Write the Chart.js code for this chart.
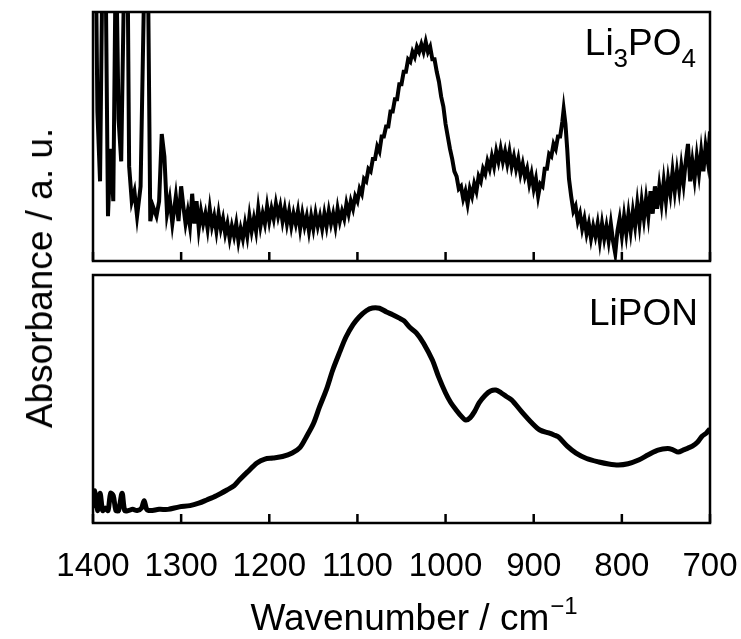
<!DOCTYPE html>
<html>
<head>
<meta charset="utf-8">
<script src="https://cdn.jsdelivr.net/npm/chart.js@4.4.1/dist/chart.umd.min.js"></script>
<style>
  body { margin: 0; background: #fff; overflow: hidden; }
  #wrap { position: relative; width: 741px; height: 639px; }
  #top { position: absolute; left: 0; top: 0; }
  #bottom { position: absolute; left: 0; top: 268px; }
  #ytitle {
    position: absolute; left: 40px; top: 278px;
    transform: translate(-50%, -50%) rotate(-90deg);
    font: 37px "Liberation Sans", Arial, sans-serif; color: #000; white-space: nowrap;
  }
</style>
</head>
<body>
<div id="wrap">
  <canvas id="top" width="741" height="268"></canvas>
  <canvas id="bottom" width="741" height="371"></canvas>
  <div id="ytitle">Absorbance / a. u.</div>
</div>
<script>
// x ticks (cm-1)
const x_ticks = [1400, 1300, 1200, 1100, 1000, 900, 800, 700];

// Li3PO4 spectrum (absorbance in % of panel height)
const li3po4_wn = [
  1400, 1397, 1395, 1392, 1389, 1386, 1383, 1380, 1377, 1374, 1371, 1368, 1364, 1361, 1359, 1356, 1353,
  1350, 1346, 1341, 1338, 1335, 1332, 1328, 1325, 1322, 1319, 1316, 1313, 1310, 1306, 1303, 1300,
  1297.5, 1295, 1292.5, 1290, 1287.5, 1285, 1282.5, 1280, 1277.5, 1275, 1272.5, 1270, 1267.5, 1265, 1262.5, 1260,
  1257.5, 1255, 1252.5, 1250, 1247.5, 1245, 1242.5, 1240, 1237.5, 1235, 1232.5, 1230, 1227.5, 1225, 1222.5, 1220,
  1217.5, 1215, 1212.5, 1210, 1207.5, 1205, 1202.5, 1200, 1197.5, 1195, 1192.5, 1190, 1187.5, 1185, 1182.5, 1180,
  1177.5, 1175, 1172.5, 1170, 1167.5, 1165, 1162.5, 1160, 1157.5, 1155, 1152.5, 1150, 1147.5, 1145, 1142.5, 1140,
  1137.5, 1135, 1132.5, 1130, 1127.5, 1125, 1122.5, 1120, 1117.5, 1115, 1112.5, 1110, 1107.5, 1105, 1102.5, 1100,
  1097.5, 1095, 1092.5, 1090, 1087.5, 1085, 1082.5, 1080, 1077.5, 1075, 1072.5, 1070, 1067.5, 1065, 1062.5, 1060,
  1057.5, 1055, 1052.5, 1050, 1047.5, 1045, 1042.5, 1040, 1037.5, 1035, 1032.5, 1030, 1027.5, 1025, 1022.5, 1020,
  1017.5, 1015, 1012.5, 1010, 1007.5, 1005, 1002.5, 1000, 997.5, 995, 992.5, 990, 987.5, 985, 982.5, 980,
  977.5, 975, 972.5, 970, 967.5, 965, 962.5, 960, 957.5, 955, 952.5, 950, 947.5, 945, 942.5, 940,
  937.5, 935, 932.5, 930, 927.5, 925, 922.5, 920, 917.5, 915, 912.5, 910, 907.5, 905, 902.5, 900,
  897.5, 895, 892.5, 890, 887.5, 885, 882.5, 880, 877.5, 875, 872.5, 870, 867.5, 866, 864, 862,
  860, 857.5, 855, 852.5, 850, 847.5, 845, 842.5, 840, 837.5, 835, 832.5, 830, 827.5, 825, 822.5,
  820, 817.5, 815, 812.5, 810, 807.5, 805, 802.5, 800, 797.5, 795, 792.5, 790, 787.5, 785, 782.5,
  780, 777.5, 775, 772.5, 770, 767.5, 765, 762.5, 760, 757.5, 755, 752.5, 750, 747.5, 745, 742.5,
  740, 737.5, 735, 732.5, 730, 727.5, 725, 722.5, 720, 717.5, 715, 712.5, 710, 707.5, 705, 702.5, 700
];
const li3po4_abs = [
  130, 130, 60, 32, 130, 130, 18, 45, 24, 130, 57, 40, 130, 130, 38, 24, 28,
  18, 30, 130, 130, 16, 22, 18, 24, 51, 42, 19, 25, 15, 26, 16, 30,
  22, 15, 20, 14, 27, 15, 24, 13, 20, 15, 19, 13, 21, 14, 18, 12,
  19, 13, 17, 11, 15, 9, 14, 10, 15, 8, 13, 9, 15, 10, 18, 12,
  17, 12, 21, 14, 19, 15, 22, 16, 21, 17, 23, 18, 22, 16, 21, 15,
  20, 14, 19, 15, 20, 13, 19, 14, 18, 12, 18, 13, 19, 14, 18, 13,
  19, 14, 20, 15, 19, 14, 21, 16, 20, 17, 23, 19, 24, 21, 26, 24,
  29, 27, 33, 32, 37, 36, 41, 41, 46, 44, 50, 50, 54, 54, 60, 60,
  65, 65, 71, 71, 76, 76, 81, 80, 84, 82, 86, 84, 87, 84, 88, 84,
  86, 81, 81, 76, 72, 66, 62, 55, 50, 45, 41, 36, 34, 29, 30, 25,
  28, 23, 29, 26, 31, 28, 34, 32, 37, 35, 40, 37, 42, 38, 44, 40,
  45, 40, 44, 39, 44, 38, 42, 37, 41, 35, 39, 34, 37, 31, 35, 29,
  33, 26, 31, 30, 37, 37, 43, 42, 47, 45, 50, 50, 56, 61, 55, 45,
  33, 26, 20, 22, 16, 19, 13, 17, 11, 15, 9, 14, 10, 15, 8, 15,
  9, 14, 8, 15, 8, 3, 12, 17, 10, 18, 11, 19, 12, 20, 14, 23,
  15, 24, 17, 25, 18, 28, 19, 30, 21, 30, 23, 32, 24, 33, 27, 36,
  28, 36, 29, 38, 31, 40, 47, 32, 40, 33, 42, 35, 44, 36, 46, 40, 52
];

// LiPON spectrum
const lipon_wn = [
  1400, 1398, 1395, 1392, 1389, 1386, 1383, 1380, 1377, 1374, 1371, 1367, 1364, 1360, 1355, 1350,
  1345, 1342, 1339, 1335, 1325, 1315, 1302, 1290, 1280, 1271, 1260, 1248, 1240, 1234, 1225, 1214,
  1205, 1196, 1185, 1174, 1165, 1158, 1150, 1143, 1135, 1128, 1120, 1113, 1105, 1098, 1090, 1083,
  1075, 1067, 1060, 1053, 1047, 1041, 1033, 1025, 1015, 1008, 1000, 994, 988, 982, 977, 972,
  967, 962, 955, 949, 943, 937, 931, 925, 914, 902, 893, 883, 877, 872, 862, 852,
  840, 826, 815, 804, 793, 781, 770, 759, 748, 742, 736, 730, 725, 720, 714, 709, 704, 700
];
const lipon_abs = [
  6, 13, 5, 12, 5, 6, 5, 12, 11, 5, 5, 12, 5, 5, 5.5, 5,
  6, 9, 5.5, 5, 5.5, 5.5, 6.5, 7, 8, 9.3, 11, 13.3, 15, 17.3, 20.5, 24.2,
  25.8, 26.2, 26.8, 28.2, 30.5, 34.7, 40, 46.8, 54, 61.7, 69, 75, 80, 83.1, 85.6, 86.7,
  86.6, 85.1, 84, 82.7, 81.5, 79, 76.6, 72.5, 65.7, 59, 52.4, 48.5, 45.6, 43, 41.5, 42.5,
  45, 48.4, 51.5, 53.2, 53.6, 52.5, 51, 49.6, 45, 40.3, 37.5, 36.3, 35.5, 34.7, 31, 28.2,
  26, 24.6, 23.8, 23.4, 23.9, 25.4, 27.5, 29.4, 30, 29.5, 28.6, 29.5, 30.2, 31, 32.7, 35, 36.3, 38
];

const FONT = '"Liberation Sans", Arial, sans-serif';

function to_points(wn, abs){
    return wn.map((w, i) => ({x: w, y: abs[i]}));
}

// frame + inward ticks + in-panel labels
function frame_plugin(label_parts, label_right, label_base){
    return {
        id: 'frame',
        afterDatasetsDraw(chart){
            const ctx = chart.ctx;
            const area = chart.chartArea;
            const xs = chart.scales.x;
            ctx.save();
            ctx.strokeStyle = '#000';
            ctx.lineWidth = 2.5;
            ctx.strokeRect(area.left, area.top, area.right - area.left, area.bottom - area.top);
            ctx.beginPath();
            for (const t of x_ticks){
                const px = xs.getPixelForValue(t);
                ctx.moveTo(px, area.bottom);
                ctx.lineTo(px, area.bottom - 9);
            }
            ctx.stroke();
            // label, possibly with subscripts
            ctx.fillStyle = '#000';
            ctx.textBaseline = 'alphabetic';
            ctx.textAlign = 'left';
            let total = 0;
            for (const p of label_parts){
                ctx.font = (p.sub ? 26 : 37) + 'px ' + FONT;
                total += ctx.measureText(p.text).width;
            }
            let x = label_right - total;
            for (const p of label_parts){
                ctx.font = (p.sub ? 26 : 37) + 'px ' + FONT;
                ctx.fillText(p.text, x, label_base + (p.sub ? 12 : 0));
                x += ctx.measureText(p.text).width;
            }
            ctx.restore();
        }
    };
}

const xtitle_plugin = {
    id: 'xtitle',
    afterDraw(chart){
        const ctx = chart.ctx;
        const area = chart.chartArea;
        ctx.save();
        ctx.fillStyle = '#000';
        ctx.textBaseline = 'alphabetic';
        ctx.font = '37px ' + FONT;
        const main = 'Wavenumber / cm';
        const w1 = ctx.measureText(main).width;
        ctx.font = '24px ' + FONT;
        const sup = '\u22121';
        const w2 = ctx.measureText(sup).width;
        const cx = (area.left + area.right) / 2 + 12;
        const x0 = cx - (w1 + w2) / 2;
        ctx.font = '37px ' + FONT;
        ctx.fillText(main, x0, 362);
        ctx.font = '24px ' + FONT;
        ctx.fillText(sup, x0 + w1 + 1, 346);
        ctx.restore();
    }
};

function x_scale(show_labels){
    const s = {
        type: 'linear',
        reverse: true,
        min: 700,
        max: 1400,
        display: show_labels,
        grid: { display: false, drawTicks: false },
        border: { display: false },
        afterBuildTicks: (scale) => { scale.ticks = x_ticks.map(v => ({value: v})); },
        ticks: {
            color: '#000',
            font: { family: FONT, size: 33 },
            padding: 24,
            maxRotation: 0,
            autoSkip: false,
            callback: (v) => String(v)
        }
    };
    if (show_labels){
        s.afterFit = (scale) => {
            scale.height = 116;
            scale.paddingLeft = 0;
            scale.paddingRight = 0;
        };
    }
    return s;
}

const common_options = {
    responsive: false,
    animation: false,
    events: [],
    plugins: { legend: { display: false }, tooltip: { enabled: false } }
};

let top_chart = new Chart(document.getElementById('top'), {
    type: 'line',
    data: {
        datasets: [{
            label: 'Li3PO4',
            data: to_points(li3po4_wn, li3po4_abs),
            borderColor: '#000',
            borderWidth: 4,
            pointRadius: 0,
            tension: 0
        }]
    },
    options: Object.assign({}, common_options, {
        layout: { padding: { left: 93, right: 31, top: 12, bottom: 7 } },
        scales: {
            x: x_scale(false),
            y: { min: 0, max: 100, display: false }
        }
    }),
    plugins: [frame_plugin([{text: 'Li'}, {text: '3', sub: true}, {text: 'PO'}, {text: '4', sub: true}], 696, 55)]
});

let bottom_chart = new Chart(document.getElementById('bottom'), {
    type: 'line',
    data: {
        datasets: [{
            label: 'LiPON',
            data: to_points(lipon_wn, lipon_abs),
            borderColor: '#000',
            borderWidth: 5,
            pointRadius: 0,
            tension: 0.3
        }]
    },
    options: Object.assign({}, common_options, {
        layout: { padding: { left: 93, right: 31, top: 7, bottom: 0 } },
        scales: {
            x: x_scale(true),
            y: { min: 0, max: 100, display: false }
        }
    }),
    plugins: [frame_plugin([{text: 'LiPON'}], 698, 57), xtitle_plugin]
});
</script>
</body>
</html>
